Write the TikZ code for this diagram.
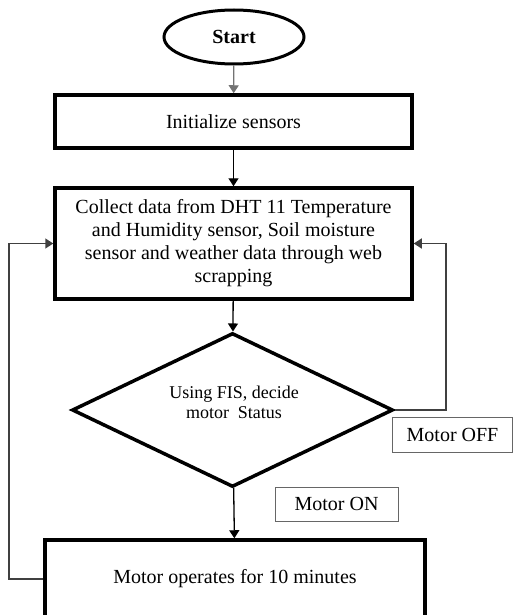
\documentclass[tikz,border=0pt]{standalone}
\usepackage{fontspec}
\setmainfont{Liberation Serif}
\usetikzlibrary{shapes.geometric,arrows.meta}
\begin{document}
\begin{tikzpicture}[x=1pt,y=-1pt,
  proc/.style={draw, line width=3.5pt, rectangle, inner sep=0pt, align=center, font=\fontsize{20}{23}\selectfont},
  lbl/.style={draw=black!60, line width=0.8pt, inner sep=0pt, font=\fontsize{20}{23}\selectfont},
  arr/.style={line width=1.3pt, -{Triangle[length=8pt,width=10pt]}},
  loopline/.style={line width=1.5pt, draw=black!75, -{Triangle[length=8pt,width=10pt]}}]
\useasboundingbox (0,0) rectangle (513,615);
\clip (0,0) rectangle (513,615);
\node[ellipse, draw, line width=3pt, minimum width=140pt, minimum height=54pt, inner sep=0pt, font=\bfseries\fontsize{20}{23}\selectfont] (start) at (234,37) {Start};
\node[proc, minimum width=357pt, minimum height=53pt] (init) at (233.5,121.5) {Initialize sensors};
\node[proc, minimum width=357pt, minimum height=111pt] (collect) at (233.5,243.5) {Collect data from DHT 11 Temperature\\and Humidity sensor, Soil moisture\\sensor and weather data through web\\scrapping};
\node[diamond, draw, line width=3.5pt, minimum width=321pt, minimum height=154pt, inner sep=0pt] (dec) at (232.5,410) {};
\node[align=center, font=\fontsize{18}{20}\selectfont] (dtxt) at (234,402) {Using FIS, decide\\motor\ \ Status};
\node[proc, minimum width=380pt, minimum height=78pt] (motor) at (235,579) {Motor operates for 10 minutes};
\node[lbl, minimum width=120pt, minimum height=35pt] (off) at (452.5,434.5) {Motor OFF};
\node[lbl, minimum width=123pt, minimum height=34pt] (on) at (336.5,504) {Motor ON};
\draw[arr, draw=black!55, fill=black!55] (start) -- (init);
\draw[arr] (init) -- (collect);
\draw[arr] (collect) -- (dec);
\draw[arr] (dec) -- (motor);
\coordinate (r1) at (446,410);
\coordinate (l1) at (9,579);
\draw[loopline] (dec.east) -- (r1) |- (collect.east);
\draw[loopline] (motor.west) -- (l1) |- (collect.west);
\end{tikzpicture}
\end{document}
